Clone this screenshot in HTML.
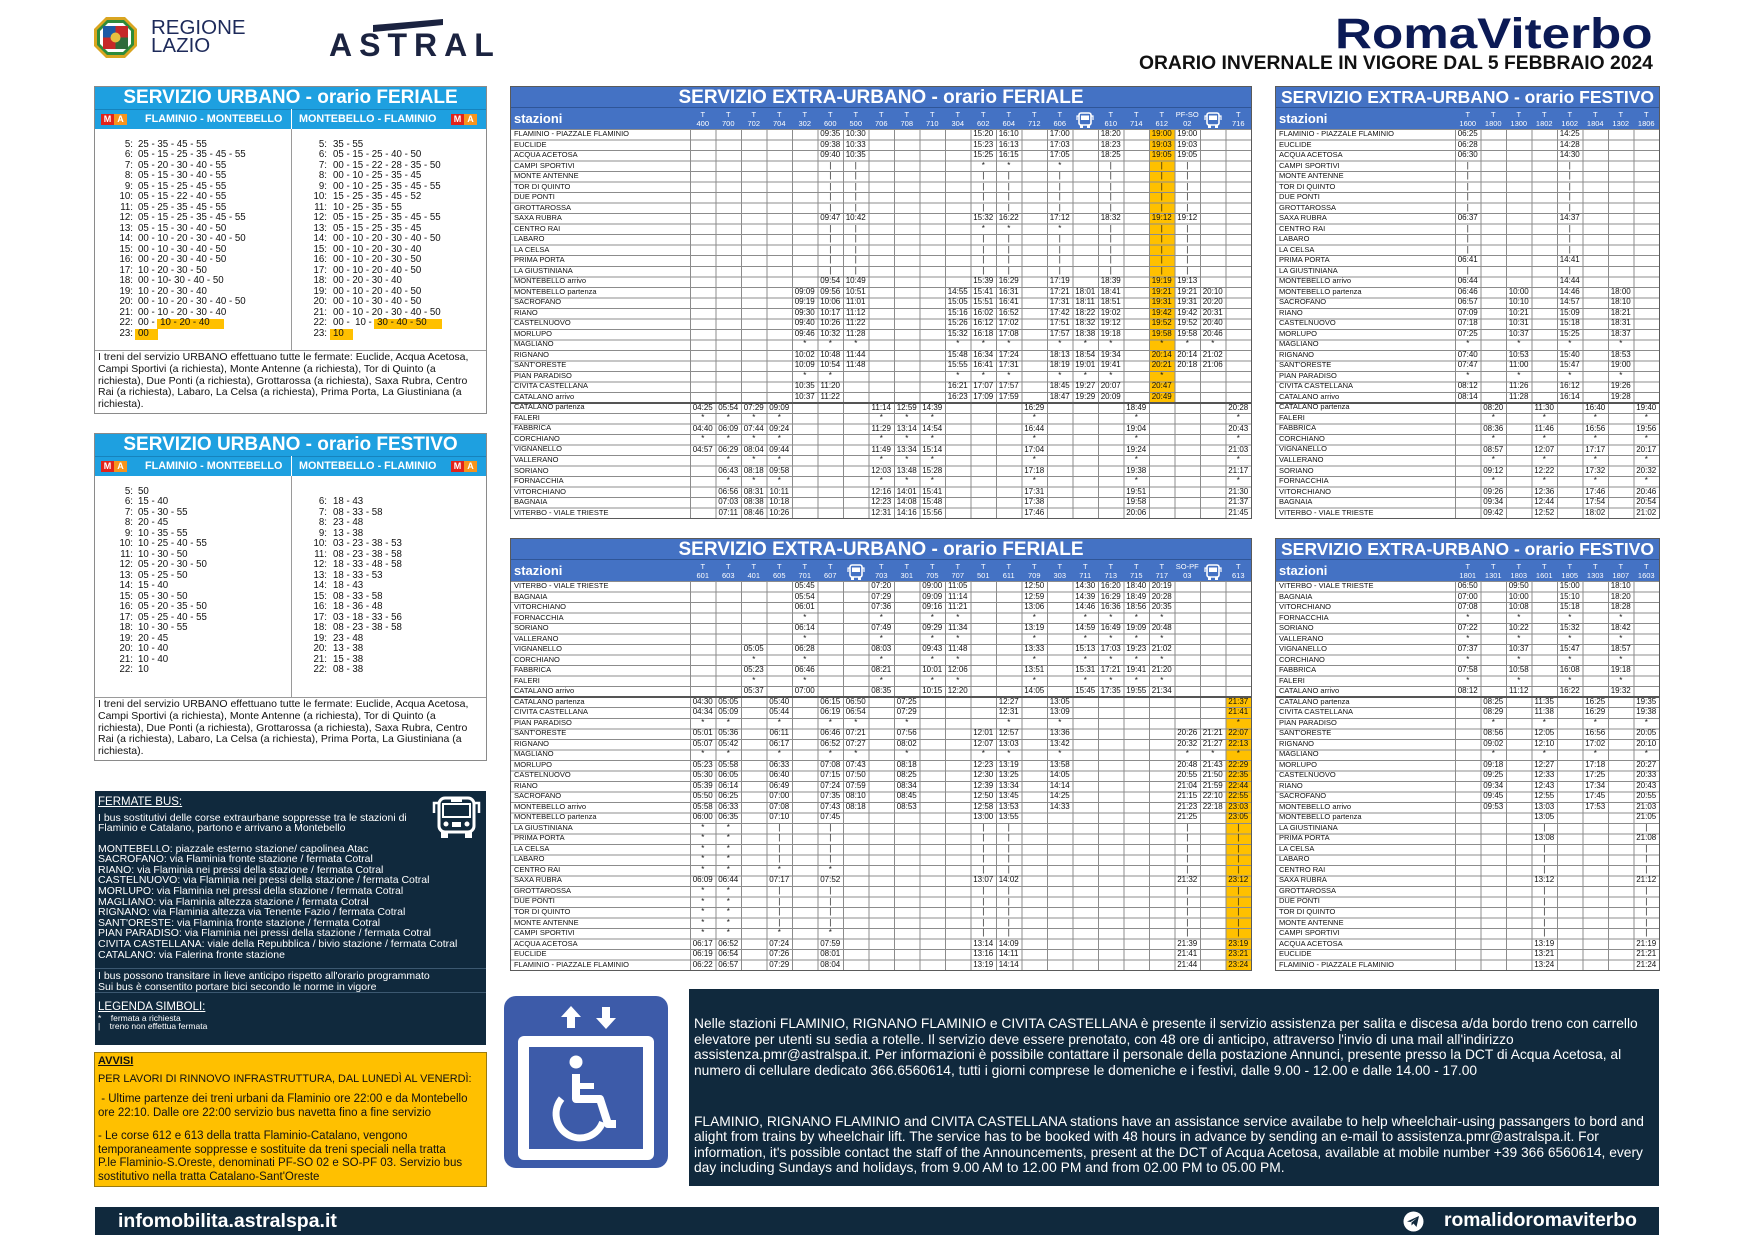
<!DOCTYPE html>
<html><head><meta charset="utf-8">
<style>
*{box-sizing:border-box;margin:0;padding:0}
body{width:1755px;height:1241px;position:relative;overflow:hidden;background:#fff;font-family:"Liberation Sans",Arial,sans-serif;color:#111}
.a{position:absolute}
/* extra-urban tables */
.X{position:absolute;height:431.3px;outline:1px solid #5a5a5a;background:#fff}
.t1{position:absolute;left:0;right:0;top:0;height:21px;background:#4472c4;color:#fff;font:bold 19px/21px "Liberation Sans",sans-serif;text-align:center;border-bottom:1px solid #2f5597;white-space:nowrap}
.t2{position:absolute;left:0;right:0;top:21px;height:21px;background:#4472c4}
.st{position:absolute;left:3px;top:3px;color:#fff;font:bold 13px/15px "Liberation Sans",sans-serif}
.H{position:absolute;left:179px;top:21px;display:flex;color:#fff;font:7.5px/9.5px "Liberation Sans",sans-serif}
.H>div{width:25.5px;flex:none;text-align:center;white-space:pre;padding-top:1.5px;height:21px}
.H svg{display:block;margin:2px auto 0}
.R{position:absolute;left:0;right:0;top:42px;height:389.3px;background:repeating-linear-gradient(to bottom,#8c8c8c 0,#8c8c8c 1px,transparent 1px,transparent 10.52px)}
.V{position:absolute;left:179px;top:42px;height:389.3px;background:repeating-linear-gradient(to right,#8c8c8c 0,#8c8c8c 1px,transparent 1px,transparent 25.5px)}
.S{position:absolute;left:3px;top:42px;white-space:pre;font:7.5px/10.52px "Liberation Sans",sans-serif;color:#111}
.D{position:absolute;left:179px;top:42px;display:flex;font:8px/10.52px "Liberation Sans",sans-serif;color:#111}
.D>div{width:25.5px;flex:none;text-align:center;white-space:pre}
.p6{padding-top:63.12px}.p11{padding-top:115.72px}.p14{padding-top:147.28px}.p15{padding-top:157.8px}.p26{padding-top:273.52px}
.sep{position:absolute;left:0;right:0;height:2px;background:#555}
.yl{position:absolute;width:25.5px;background:#ffc000}
/* urban boxes */
.U{position:absolute;left:95px;width:391px;height:326px;outline:1px solid #8a8a8a;background:#fff}
.u1{position:absolute;left:0;right:0;top:0;height:22px;background:#1ea0e0;color:#fff;font:bold 19px/22px "Liberation Sans",sans-serif;text-align:center;white-space:nowrap}
.u2{position:absolute;left:0;right:0;top:22px;height:20px;background:#1ea0e0;border-top:1px solid #1683bd}
.ut{position:absolute;top:3px;color:#fff;font:bold 10.8px/13px "Liberation Sans",sans-serif;white-space:nowrap}
.ma{position:absolute;top:4px;height:11px;width:27px}
.ma i{position:absolute;top:0;height:11px;width:13px;font:bold 9px/11px "Liberation Sans",sans-serif;color:#fff;text-align:center;font-style:normal}
.vd{position:absolute;left:196px;top:42px;width:1px;height:221px;background:#9a9a9a}
.vw{position:absolute;left:196px;top:22px;width:1px;height:20px;background:#fff}
.hd{position:absolute;left:0;right:0;top:263px;height:1px;background:#9a9a9a}
.hh{position:absolute;top:52.7px;text-align:right;white-space:pre;font:9.7px/10.52px "Liberation Sans",sans-serif;color:#111}
.vv{position:absolute;top:52.7px;white-space:pre;font:9.7px/10.52px "Liberation Sans",sans-serif;color:#111}
.hy{position:absolute;height:10.5px;background:#ffc000}
.nt{position:absolute;left:3px;top:265px;font:10.5px/11.8px "Liberation Sans",sans-serif;white-space:nowrap;color:#111}
/* navy */
.nv{position:absolute;background:#10293d;color:#fff}
</style></head><body>

<!-- Regione Lazio logo -->
<svg class="a" style="left:94px;top:17px" width="44" height="41" viewBox="0 0 44 41">
<polygon points="12,0 31,0 43,12 43,29 31,41 12,41 0,29 0,12" fill="#d9a520"/>
<polygon points="13,3 30,3 40,13 40,28 30,38 13,38 3,28 3,13" fill="#2e8b3a"/>
<polygon points="14,6 29,6 37,14 37,27 29,35 14,35 6,27 6,14" fill="#fff"/>
<rect x="9" y="9" width="12.5" height="11.5" fill="#1c5aa6"/>
<rect x="21.5" y="9" width="12.5" height="11.5" fill="#c62828"/>
<rect x="9" y="20.5" width="12.5" height="11.5" fill="#c62828"/>
<rect x="21.5" y="20.5" width="12.5" height="11.5" fill="#2e6b3a"/>
<circle cx="21.5" cy="20.5" r="5" fill="#e8c040"/>
</svg>
<div class="a" style="left:151px;top:19px;font:20.5px/18px 'Liberation Sans',sans-serif;color:#1d2a5a">REGIONE<br>LAZIO</div>

<!-- ASTRAL -->
<svg class="a" style="left:370px;top:16px" width="76" height="18" viewBox="0 0 76 18"><polygon points="3,9 73,3 73,9 3,16" fill="#1b2340"/></svg>
<div class="a" style="left:329px;top:29px;font:bold 32px/32px 'Liberation Sans',sans-serif;letter-spacing:7px;color:#1b2340">ASTRAL</div>

<!-- Title -->
<div class="a" style="left:1335px;top:13px;font:bold 43px/43px 'Liberation Sans',sans-serif;color:#0b1a55;transform-origin:0 0;transform:scaleX(1.19);white-space:nowrap">RomaViterbo</div>
<div class="a" style="left:1139px;top:54px;font:bold 19.3px/20px 'Liberation Sans',sans-serif;color:#111;white-space:nowrap">ORARIO INVERNALE IN VIGORE DAL 5 FEBBRAIO 2024</div>

<!-- URBANO FERIALE -->
<div class="U" style="top:87px">
<div class="u1">SERVIZIO URBANO - orario FERIALE</div>
<div class="u2">
<span class="ma" style="left:6px"><i style="left:0;background:#e2231a">M</i><i style="left:13px;background:#f7941d">A</i></span>
<span class="ut" style="left:50px">FLAMINIO - MONTEBELLO</span>
<span class="ut" style="left:204px">MONTEBELLO - FLAMINIO</span>
<span class="ma" style="left:356px"><i style="left:0;background:#e2231a">M</i><i style="left:13px;background:#f7941d">A</i></span>
</div>
<div class="vw"></div><div class="vd"></div><div class="hd"></div>
<div class="hy" style="left:62px;top:231.5px;width:67px"></div>
<div class="hy" style="left:40px;top:242px;width:23px"></div>
<div class="hy" style="left:279px;top:231.5px;width:68px"></div>
<div class="hy" style="left:235px;top:242px;width:23px"></div>
<div class="hh" style="left:0;width:38px">5:
6:
7:
8:
9:
10:
11:
12:
13:
14:
15:
16:
17:
18:
19:
20:
21:
22:
23:</div>
<div class="vv" style="left:43px">25 - 35 - 45 - 55
05 - 15 - 25 - 35 - 45 - 55
05 - 20 - 30 - 40 - 55
05 - 15 - 30 - 40 - 55
05 - 15 - 25 - 45 - 55
05 - 15 - 22 - 40 - 55
05 - 25 - 35 - 45 - 55
05 - 15 - 25 - 35 - 45 - 55
05 - 15 - 30 - 40 - 50
00 - 10 - 20 - 30 - 40 - 50
00 - 10 - 30 - 40 - 50
00 - 20 - 30 - 40 - 50
10 - 20 - 30 - 50
00 - 10- 30 - 40 - 50
10 - 20 - 30 - 40
00 - 10 - 20 - 30 - 40 - 50
00 - 10 - 20 - 30 - 40
00 -  10 - 20 - 40
00</div>
<div class="hh" style="left:196px;width:36px">5:
6:
7:
8:
9:
10:
11:
12:
13:
14:
15:
16:
17:
18:
19:
20:
21:
22:
23:</div>
<div class="vv" style="left:238px">35 - 55
05 - 15 - 25 - 40 - 50
00 - 15 - 22 - 28 - 35 - 50
00 - 10 - 25 - 35 - 45
00 - 10 - 25 - 35 - 45 - 55
15 - 25 - 35 - 45 - 52
10 - 25 - 35 - 55
05 - 15 - 25 - 35 - 45 - 55
05 - 15 - 25 - 35 - 45
00 - 10 - 20 - 30 - 40 - 50
00 - 10 - 20 - 30 - 40
00 - 10 - 20 - 30 - 50
00 - 10 - 20 - 40 - 50
00 - 20 - 30 - 40
00 - 10 - 20 - 40 - 50
00 - 10 - 30 - 40 - 50
00 - 10 - 20 - 30 - 40 - 50
00 -  10 -  30 - 40 - 50
10</div>
<div class="nt">I treni del servizio URBANO effettuano tutte le fermate: Euclide, Acqua Acetosa,<br>Campi Sportivi (a richiesta), Monte Antenne (a richiesta), Tor di Quinto (a<br>richiesta), Due Ponti (a richiesta), Grottarossa (a richiesta), Saxa Rubra, Centro<br>Rai (a richiesta), Labaro, La Celsa (a richiesta), Prima Porta, La Giustiniana (a<br>richiesta).</div>
</div>

<!-- URBANO FESTIVO -->
<div class="U" style="top:434px">
<div class="u1">SERVIZIO URBANO - orario FESTIVO</div>
<div class="u2">
<span class="ma" style="left:6px"><i style="left:0;background:#e2231a">M</i><i style="left:13px;background:#f7941d">A</i></span>
<span class="ut" style="left:50px">FLAMINIO - MONTEBELLO</span>
<span class="ut" style="left:204px">MONTEBELLO - FLAMINIO</span>
<span class="ma" style="left:356px"><i style="left:0;background:#e2231a">M</i><i style="left:13px;background:#f7941d">A</i></span>
</div>
<div class="vw"></div><div class="vd"></div><div class="hd"></div>
<div class="hh" style="left:0;width:38px">5:
6:
7:
8:
9:
10:
11:
12:
13:
14:
15:
16:
17:
18:
19:
20:
21:
22:</div>
<div class="vv" style="left:43px">50
15 - 40
05 - 30 - 55
20 - 45
10 - 35 - 55
10 - 25 - 40 - 55
10 - 30 - 50
05 - 20 - 30 - 50
05 - 25 - 50
15 - 40
05 - 30 - 50
05 - 20 - 35 - 50
05 - 25 - 40 - 55
10 - 30 - 55
20 - 45
10 - 40
10 - 40
10</div>
<div class="hh" style="left:196px;width:36px"> 
6:
7:
8:
9:
10:
11:
12:
13:
14:
15:
16:
17:
18:
19:
20:
21:
22:</div>
<div class="vv" style="left:238px"> 
18 - 43
08 - 33 - 58
23 - 48
13 - 38
03 - 23 - 38 - 53
08 - 23 - 38 - 58
18 - 33 - 48 - 58
18 - 33 - 53
18 - 43
08 - 33 - 58
18 - 36 - 48
03 - 18 - 33 - 56
08 - 23 - 38 - 58
23 - 48
13 - 38
15 - 38
08 - 38</div>
<div class="nt">I treni del servizio URBANO effettuano tutte le fermate: Euclide, Acqua Acetosa,<br>Campi Sportivi (a richiesta), Monte Antenne (a richiesta), Tor di Quinto (a<br>richiesta), Due Ponti (a richiesta), Grottarossa (a richiesta), Saxa Rubra, Centro<br>Rai (a richiesta), Labaro, La Celsa (a richiesta), Prima Porta, La Giustiniana (a<br>richiesta).</div>
</div>

<!-- EXTRA-URBANO FERIALE TOP -->
<div class="X" style="left:511px;top:87px;width:740px">
<div class="t1">SERVIZIO EXTRA-URBANO - orario FERIALE</div>
<div class="t2"><span class="st">stazioni</span></div>
<div class="H"><div>T
400</div><div>T
700</div><div>T
702</div><div>T
704</div><div>T
302</div><div>T
600</div><div>T
500</div><div>T
706</div><div>T
708</div><div>T
710</div><div>T
304</div><div>T
602</div><div>T
604</div><div>T
712</div><div>T
606</div><div><svg width="18" height="17" viewBox="0 0 18 17"><rect x="3" y="1" width="12" height="12" rx="2" fill="none" stroke="#fff" stroke-width="1.6"/><rect x="5" y="3.5" width="8" height="4.5" fill="#fff"/><rect x="4" y="13" width="3" height="3" fill="#fff"/><rect x="11" y="13" width="3" height="3" fill="#fff"/><path d="M3 4H1V8M15 4h2v4" fill="none" stroke="#fff" stroke-width="1.2"/></svg></div><div>T
610</div><div>T
714</div><div>T
612</div><div>PF-SO
02</div><div><svg width="18" height="17" viewBox="0 0 18 17"><rect x="3" y="1" width="12" height="12" rx="2" fill="none" stroke="#fff" stroke-width="1.6"/><rect x="5" y="3.5" width="8" height="4.5" fill="#fff"/><rect x="4" y="13" width="3" height="3" fill="#fff"/><rect x="11" y="13" width="3" height="3" fill="#fff"/><path d="M3 4H1V8M15 4h2v4" fill="none" stroke="#fff" stroke-width="1.2"/></svg></div><div>T
716</div></div>
<div class="yl" style="left:638px;top:42px;height:273.52px"></div>
<div class="R"></div>
<div class="V" style="width:561px"></div>
<div class="sep" style="top:315px"></div>
<div class="S">FLAMINIO - PIAZZALE FLAMINIO
EUCLIDE
ACQUA ACETOSA
CAMPI SPORTIVI
MONTE ANTENNE
TOR DI QUINTO
DUE PONTI
GROTTAROSSA
SAXA RUBRA
CENTRO RAI
LABARO
LA CELSA
PRIMA PORTA
LA GIUSTINIANA
MONTEBELLO arrivo
MONTEBELLO partenza
SACROFANO
RIANO
CASTELNUOVO
MORLUPO
MAGLIANO
RIGNANO
SANT'ORESTE
PIAN PARADISO
CIVITA CASTELLANA
CATALANO arrivo
CATALANO partenza
FALERI
FABBRICA
CORCHIANO
VIGNANELLO
VALLERANO
SORIANO
FORNACCHIA
VITORCHIANO
BAGNAIA
VITERBO - VIALE TRIESTE</div>
<div class="D"><div class="p26">04:25
*
04:40
*
04:57</div><div class="p26">05:54
*
06:09
*
06:29
*
06:43
*
06:56
07:03
07:11</div><div class="p26">07:29
*
07:44
*
08:04
*
08:18
*
08:31
08:38
08:46</div><div class="p26">09:09
*
09:24
*
09:44
*
09:58
*
10:11
10:18
10:26</div><div class="p15">09:09
09:19
09:30
09:40
09:46
*
10:02
10:09
*
10:35
10:37</div><div>09:35
09:38
09:40
|
|
|
|
|
09:47
|
|
|
|
|
09:54
09:56
10:06
10:17
10:26
10:32
*
10:48
10:54
*
11:20
11:22</div><div>10:30
10:33
10:35
|
|
|
|
|
10:42
|
|
|
|
|
10:49
10:51
11:01
11:12
11:22
11:28
*
11:44
11:48</div><div class="p26">11:14
*
11:29
*
11:49
*
12:03
*
12:16
12:23
12:31</div><div class="p26">12:59
*
13:14
*
13:34
*
13:48
*
14:01
14:08
14:16</div><div class="p26">14:39
*
14:54
*
15:14
*
15:28
*
15:41
15:48
15:56</div><div class="p15">14:55
15:05
15:16
15:26
15:32
*
15:48
15:55
*
16:21
16:23</div><div>15:20
15:23
15:25
*
|
|
|
|
15:32
*
|
|
|
|
15:39
15:41
15:51
16:02
16:12
16:18
*
16:34
16:41
*
17:07
17:09</div><div>16:10
16:13
16:15
*
|
|
|
|
16:22
*
|
|
|
|
16:29
16:31
16:41
16:52
17:02
17:08
*
17:24
17:31
*
17:57
17:59</div><div class="p26">16:29
*
16:44
*
17:04
*
17:18
*
17:31
17:38
17:46</div><div>17:00
17:03
17:05
*
|
|
|
|
17:12
*
|
|
|
|
17:19
17:21
17:31
17:42
17:51
17:57
*
18:13
18:19
*
18:45
18:47</div><div class="p15">18:01
18:11
18:22
18:32
18:38
*
18:54
19:01
*
19:27
19:29</div><div>18:20
18:23
18:25
|
|
|
|
|
18:32
|
|
|
|
|
18:39
18:41
18:51
19:02
19:12
19:18
*
19:34
19:41
*
20:07
20:09</div><div class="p26">18:49
*
19:04
*
19:24
*
19:38
*
19:51
19:58
20:06</div><div>19:00
19:03
19:05
|
|
|
|
|
19:12
|
|
|
|
|
19:19
19:21
19:31
19:42
19:52
19:58
*
20:14
20:21
*
20:47
20:49</div><div>19:00
19:03
19:05
|
|
|
|
|
19:12
|
|
|
|
|
19:13
19:21
19:31
19:42
19:52
19:58
*
20:14
20:18</div><div class="p15">20:10
20:20
20:31
20:40
20:46
*
21:02
21:06</div><div class="p26">20:28
*
20:43
*
21:03
*
21:17
*
21:30
21:37
21:45</div></div>
</div>

<!-- EXTRA-URBANO FESTIVO TOP -->
<div class="X" style="left:1276px;top:87px;width:383px">
<div class="t1" style="font-size:17.5px">SERVIZIO EXTRA-URBANO - orario FESTIVO</div>
<div class="t2"><span class="st">stazioni</span></div>
<div class="H"><div>T
1600</div><div>T
1800</div><div>T
1300</div><div>T
1802</div><div>T
1602</div><div>T
1804</div><div>T
1302</div><div>T
1806</div></div>
<div class="R"></div>
<div class="V" style="width:204px"></div>
<div class="sep" style="top:315px"></div>
<div class="S">FLAMINIO - PIAZZALE FLAMINIO
EUCLIDE
ACQUA ACETOSA
CAMPI SPORTIVI
MONTE ANTENNE
TOR DI QUINTO
DUE PONTI
GROTTAROSSA
SAXA RUBRA
CENTRO RAI
LABARO
LA CELSA
PRIMA PORTA
LA GIUSTINIANA
MONTEBELLO arrivo
MONTEBELLO partenza
SACROFANO
RIANO
CASTELNUOVO
MORLUPO
MAGLIANO
RIGNANO
SANT'ORESTE
PIAN PARADISO
CIVITA CASTELLANA
CATALANO arrivo
CATALANO partenza
FALERI
FABBRICA
CORCHIANO
VIGNANELLO
VALLERANO
SORIANO
FORNACCHIA
VITORCHIANO
BAGNAIA
VITERBO - VIALE TRIESTE</div>
<div class="D"><div>06:25
06:28
06:30
|
|
|
|
|
06:37
|
|
|
06:41
|
06:44
06:46
06:57
07:09
07:18
07:25
*
07:40
07:47
*
08:12
08:14</div><div class="p26">08:20
*
08:36
*
08:57
*
09:12
*
09:26
09:34
09:42</div><div class="p15">10:00
10:10
10:21
10:31
10:37
*
10:53
11:00
*
11:26
11:28</div><div class="p26">11:30
*
11:46
*
12:07
*
12:22
*
12:36
12:44
12:52</div><div>14:25
14:28
14:30
|
|
|
|
|
14:37
|
|
|
14:41
|
14:44
14:46
14:57
15:09
15:18
15:25
*
15:40
15:47
*
16:12
16:14</div><div class="p26">16:40
*
16:56
*
17:17
*
17:32
*
17:46
17:54
18:02</div><div class="p15">18:00
18:10
18:21
18:31
18:37
*
18:53
19:00
*
19:26
19:28</div><div class="p26">19:40
*
19:56
*
20:17
*
20:32
*
20:46
20:54
21:02</div></div>
</div>

<!-- EXTRA-URBANO FERIALE BOTTOM -->
<div class="X" style="left:511px;top:539px;width:740px">
<div class="t1">SERVIZIO EXTRA-URBANO - orario FERIALE</div>
<div class="t2"><span class="st">stazioni</span></div>
<div class="H"><div>T
601</div><div>T
603</div><div>T
401</div><div>T
605</div><div>T
701</div><div>T
607</div><div><svg width="18" height="17" viewBox="0 0 18 17"><rect x="3" y="1" width="12" height="12" rx="2" fill="none" stroke="#fff" stroke-width="1.6"/><rect x="5" y="3.5" width="8" height="4.5" fill="#fff"/><rect x="4" y="13" width="3" height="3" fill="#fff"/><rect x="11" y="13" width="3" height="3" fill="#fff"/><path d="M3 4H1V8M15 4h2v4" fill="none" stroke="#fff" stroke-width="1.2"/></svg></div><div>T
703</div><div>T
301</div><div>T
705</div><div>T
707</div><div>T
501</div><div>T
611</div><div>T
709</div><div>T
303</div><div>T
711</div><div>T
713</div><div>T
715</div><div>T
717</div><div>SO-PF
03</div><div><svg width="18" height="17" viewBox="0 0 18 17"><rect x="3" y="1" width="12" height="12" rx="2" fill="none" stroke="#fff" stroke-width="1.6"/><rect x="5" y="3.5" width="8" height="4.5" fill="#fff"/><rect x="4" y="13" width="3" height="3" fill="#fff"/><rect x="11" y="13" width="3" height="3" fill="#fff"/><path d="M3 4H1V8M15 4h2v4" fill="none" stroke="#fff" stroke-width="1.2"/></svg></div><div>T
613</div></div>
<div class="yl" style="left:714.5px;top:157.72px;height:273.52px"></div>
<div class="R"></div>
<div class="V" style="width:561px"></div>
<div class="sep" style="top:157px"></div>
<div class="S">VITERBO - VIALE TRIESTE
BAGNAIA
VITORCHIANO
FORNACCHIA
SORIANO
VALLERANO
VIGNANELLO
CORCHIANO
FABBRICA
FALERI
CATALANO arrivo
CATALANO partenza
CIVITA CASTELLANA
PIAN PARADISO
SANT'ORESTE
RIGNANO
MAGLIANO
MORLUPO
CASTELNUOVO
RIANO
SACROFANO
MONTEBELLO arrivo
MONTEBELLO partenza
LA GIUSTINIANA
PRIMA PORTA
LA CELSA
LABARO
CENTRO RAI
SAXA RUBRA
GROTTAROSSA
DUE PONTI
TOR DI QUINTO
MONTE ANTENNE
CAMPI SPORTIVI
ACQUA ACETOSA
EUCLIDE
FLAMINIO - PIAZZALE FLAMINIO</div>
<div class="D"><div class="p11">04:30
04:34
*
05:01
05:07
*
05:23
05:30
05:39
05:50
05:58
06:00
*
*
*
*
*
06:09
*
*
*
*
*
06:17
06:19
06:22</div><div class="p11">05:05
05:09
*
05:36
05:42
*
05:58
06:05
06:14
06:25
06:33
06:35
*
*
*
*
*
06:44
*
*
*
*
*
06:52
06:54
06:57</div><div class="p6">05:05
*
05:23
*
05:37</div><div class="p11">05:40
05:44
*
06:11
06:17
*
06:33
06:40
06:49
07:00
07:08
07:10
|
|
|
|
*
07:17
|
|
|
|
*
07:24
07:26
07:29</div><div>05:45
05:54
06:01
*
06:14
*
06:28
*
06:46
*
07:00</div><div class="p11">06:15
06:19
*
06:46
06:52
*
07:08
07:15
07:24
07:35
07:43
07:45
|
|
|
|
*
07:52
|
|
|
|
*
07:59
08:01
08:04</div><div class="p11">06:50
06:54
*
07:21
07:27
*
07:43
07:50
07:59
08:10
08:18</div><div>07:20
07:29
07:36
*
07:49
*
08:03
*
08:21
*
08:35</div><div class="p11">07:25
07:29
*
07:56
08:02
*
08:18
08:25
08:34
08:45
08:53</div><div>09:00
09:09
09:16
*
09:29
*
09:43
*
10:01
*
10:15</div><div>11:05
11:14
11:21
*
11:34
*
11:48
*
12:06
*
12:20</div><div class="p14">12:01
12:07
*
12:23
12:30
12:39
12:50
12:58
13:00
|
|
|
|
|
13:07
|
|
|
|
|
13:14
13:16
13:19</div><div class="p11">12:27
12:31
*
12:57
13:03
*
13:19
13:25
13:34
13:45
13:53
13:55
|
|
|
|
|
14:02
|
|
|
|
|
14:09
14:11
14:14</div><div>12:50
12:59
13:06
*
13:19
*
13:33
*
13:51
*
14:05</div><div class="p11">13:05
13:09
*
13:36
13:42
*
13:58
14:05
14:14
14:25
14:33</div><div>14:30
14:39
14:46
*
14:59
*
15:13
*
15:31
*
15:45</div><div>16:20
16:29
16:36
*
16:49
*
17:03
*
17:21
*
17:35</div><div>18:40
18:49
18:56
*
19:09
*
19:23
*
19:41
*
19:55</div><div>20:19
20:28
20:35
*
20:48
*
21:02
*
21:20
*
21:34</div><div class="p14">20:26
20:32
*
20:48
20:55
21:04
21:15
21:23
21:25
|
|
|
|
|
21:32
|
|
|
|
|
21:39
21:41
21:44</div><div class="p14">21:21
21:27
*
21:43
21:50
21:59
22:10
22:18</div><div class="p11">21:37
21:41
*
22:07
22:13
*
22:29
22:35
22:44
22:55
23:03
23:05
|
|
|
|
|
23:12
|
|
|
|
|
23:19
23:21
23:24</div></div>
</div>

<!-- EXTRA-URBANO FESTIVO BOTTOM -->
<div class="X" style="left:1276px;top:539px;width:383px">
<div class="t1" style="font-size:17.5px">SERVIZIO EXTRA-URBANO - orario FESTIVO</div>
<div class="t2"><span class="st">stazioni</span></div>
<div class="H"><div>T
1801</div><div>T
1301</div><div>T
1803</div><div>T
1601</div><div>T
1805</div><div>T
1303</div><div>T
1807</div><div>T
1603</div></div>
<div class="R"></div>
<div class="V" style="width:204px"></div>
<div class="sep" style="top:157px"></div>
<div class="S">VITERBO - VIALE TRIESTE
BAGNAIA
VITORCHIANO
FORNACCHIA
SORIANO
VALLERANO
VIGNANELLO
CORCHIANO
FABBRICA
FALERI
CATALANO arrivo
CATALANO partenza
CIVITA CASTELLANA
PIAN PARADISO
SANT'ORESTE
RIGNANO
MAGLIANO
MORLUPO
CASTELNUOVO
RIANO
SACROFANO
MONTEBELLO arrivo
MONTEBELLO partenza
LA GIUSTINIANA
PRIMA PORTA
LA CELSA
LABARO
CENTRO RAI
SAXA RUBRA
GROTTAROSSA
DUE PONTI
TOR DI QUINTO
MONTE ANTENNE
CAMPI SPORTIVI
ACQUA ACETOSA
EUCLIDE
FLAMINIO - PIAZZALE FLAMINIO</div>
<div class="D"><div>06:50
07:00
07:08
*
07:22
*
07:37
*
07:58
*
08:12</div><div class="p11">08:25
08:29
*
08:56
09:02
*
09:18
09:25
09:34
09:45
09:53</div><div>09:50
10:00
10:08
*
10:22
*
10:37
*
10:58
*
11:12</div><div class="p11">11:35
11:38
*
12:05
12:10
*
12:27
12:33
12:43
12:55
13:03
13:05
|
13:08
|
|
|
13:12
|
|
|
|
|
13:19
13:21
13:24</div><div>15:00
15:10
15:18
*
15:32
*
15:47
*
16:08
*
16:22</div><div class="p11">16:25
16:29
*
16:56
17:02
*
17:18
17:25
17:34
17:45
17:53</div><div>18:10
18:20
18:28
*
18:42
*
18:57
*
19:18
*
19:32</div><div class="p11">19:35
19:38
*
20:05
20:10
*
20:27
20:33
20:43
20:55
21:03
21:05
|
21:08
|
|
|
21:12
|
|
|
|
|
21:19
21:21
21:24</div></div>
</div>

<!-- FERMATE BUS -->
<div class="nv" style="left:95px;top:791px;width:391px;height:254px">
<div class="a" style="left:3px;top:4px;font:11.5px/14px 'Liberation Sans',sans-serif;text-decoration:underline">FERMATE BUS:</div>
<svg class="a" style="left:337px;top:4px" width="49" height="44" viewBox="0 0 49 44"><rect x="7" y="3" width="35" height="34" rx="6" fill="none" stroke="#fff" stroke-width="3"/><rect x="11" y="9" width="27" height="13" fill="none" stroke="#fff" stroke-width="2"/><rect x="19" y="4" width="11" height="3" fill="#fff"/><circle cx="14" cy="29" r="2.5" fill="#fff"/><circle cx="35" cy="29" r="2.5" fill="#fff"/><rect x="20" y="27" width="9" height="5" fill="#fff"/><rect x="9" y="37" width="7" height="6" fill="#fff"/><rect x="33" y="37" width="7" height="6" fill="#fff"/><path d="M7 8H2V18M42 8h5v10" fill="none" stroke="#fff" stroke-width="2.5"/></svg>
<div class="a" style="left:3px;top:21.7px;font:10.5px/10.55px 'Liberation Sans',sans-serif;white-space:nowrap">I bus sostitutivi delle corse extraurbane soppresse tra le stazioni di<br>Flaminio e Catalano, partono e arrivano a Montebello</div>
<div class="a" style="left:3px;top:52.7px;font:10.5px/10.6px 'Liberation Sans',sans-serif;white-space:nowrap">MONTEBELLO: piazzale esterno stazione/ capolinea Atac<br>SACROFANO: via Flaminia fronte stazione / fermata Cotral<br>RIANO: via Flaminia nei pressi della stazione / fermata Cotral<br>CASTELNUOVO: via Flaminia nei pressi della stazione / fermata Cotral<br>MORLUPO: via Flaminia nei pressi della stazione / fermata Cotral<br>MAGLIANO: via Flaminia altezza stazione / fermata Cotral<br>RIGNANO: via Flaminia altezza via Tenente Fazio / fermata Cotral<br>SANT'ORESTE: via Flaminia fronte stazione / fermata Cotral<br>PIAN PARADISO: via Flaminia nei pressi della stazione / fermata Cotral<br>CIVITA CASTELLANA: viale della Repubblica / bivio stazione / fermata Cotral<br>CATALANO: via Falerina fronte stazione</div>
<div class="a" style="left:0;right:0;top:177px;height:1px;background:#3c5870"></div>
<div class="a" style="left:3px;top:180px;font:10.5px/10.55px 'Liberation Sans',sans-serif;white-space:nowrap">I bus possono transitare in lieve anticipo rispetto all'orario programmato<br>Sui bus è consentito portare bici secondo le norme in vigore</div>
<div class="a" style="left:0;right:0;top:201px;height:1px;background:#3c5870"></div>
<div class="a" style="left:3px;top:209px;font:11.5px/14px 'Liberation Sans',sans-serif;text-decoration:underline">LEGENDA SIMBOLI:</div>
<div class="a" style="left:3px;top:223px;font:8.5px/8px 'Liberation Sans',sans-serif;white-space:pre">*    fermata a richiesta
|    treno non effettua fermata</div>
</div>

<!-- AVVISI -->
<div class="a" style="left:95px;top:1053px;width:391px;height:133px;background:#ffc000;outline:1px solid #9a7a10;color:#111">
<div class="a" style="left:3px;top:1px;font:bold 11px/14px 'Liberation Sans',sans-serif;text-decoration:underline">AVVISI</div>
<div class="a" style="left:3px;top:19.5px;font:10.9px/13.5px 'Liberation Sans',sans-serif;white-space:nowrap">PER LAVORI DI RINNOVO INFRASTRUTTURA, DAL LUNEDÌ AL VENERDÌ:</div>
<div class="a" style="left:3px;top:40.4px;font:11.5px/13.3px 'Liberation Sans',sans-serif;white-space:nowrap">&nbsp;- Ultime partenze dei treni urbani da Flaminio ore 22:00 e da Montebello<br>ore 22:10. Dalle ore 22:00 servizio bus navetta fino a fine servizio</div>
<div class="a" style="left:3px;top:77px;font:11.5px/13.6px 'Liberation Sans',sans-serif;white-space:nowrap">- Le corse 612 e 613 della tratta Flaminio-Catalano, vengono<br>temporaneamente soppresse e sostituite da treni speciali nella tratta<br>P.le Flaminio-S.Oreste, denominati PF-SO 02 e SO-PF 03. Servizio bus<br>sostitutivo nella tratta Catalano-Sant'Oreste</div>
</div>

<!-- Wheelchair icon -->
<svg class="a" style="left:504px;top:996px" width="164" height="172" viewBox="0 0 164 172">
<rect x="0" y="0" width="164" height="172" rx="12" fill="#3d5ba9"/>
<polygon points="67,10 57,21 63,21 63,32 71,32 71,21 77,21" fill="#fff"/>
<polygon points="102,33 92,22 98,22 98,11 106,11 106,22 112,22" fill="#fff"/>
<rect x="14" y="40" width="136" height="124" rx="6" fill="#fff"/>
<rect x="25" y="51" width="114" height="102" fill="#3d5ba9"/>
<circle cx="72" cy="66" r="6.5" fill="#fff"/>
<path d="M72 78V103H96L104 128H112" fill="none" stroke="#fff" stroke-width="8" stroke-linejoin="round"/>
<path d="M72 90H90" stroke="#fff" stroke-width="6"/>
<path d="M57.6 102.6A24 24 0 1 0 98.6 126.2" fill="none" stroke="#fff" stroke-width="7"/>
</svg>

<!-- Accessibility text box -->
<div class="nv" style="left:689px;top:989px;width:970px;height:197px">
<div class="a" style="left:5px;top:27.3px;font:13.8px/15.4px 'Liberation Sans',sans-serif;white-space:nowrap">Nelle stazioni FLAMINIO, RIGNANO FLAMINIO e CIVITA CASTELLANA è presente il servizio assistenza per salita e discesa a/da bordo treno con carrello<br>elevatore per utenti su sedia a rotelle. Il servizio deve essere prenotato, con 48 ore di anticipo, attraverso l'invio di una mail all'indirizzo<br>assistenza.pmr@astralspa.it. Per informazioni è possibile contattare il personale della postazione Annunci, presente presso la DCT di Acqua Acetosa, al<br>numero di cellulare dedicato 366.6560614, tutti i giorni comprese le domeniche e i festivi, dalle 9.00 - 12.00 e dalle 14.00 - 17.00</div>
<div class="a" style="left:5px;top:124.8px;font:13.8px/15.4px 'Liberation Sans',sans-serif;white-space:nowrap">FLAMINIO, RIGNANO FLAMINIO and CIVITA CASTELLANA stations have an assistance service availabe to help wheelchair-using passangers to bord and<br>alight from trains by wheelchair lift. The service has to be booked with 48 hours in advance by sending an e-mail to assistenza.pmr@astralspa.it. For<br>information, it's possible contact the staff of the Announcements, present at the DCT of Acqua Acetosa, available at mobile number +39 366 6560614, every<br>day including Sundays and holidays, from 9.00 AM to 12.00 PM and from 02.00 PM to 05.00 PM.</div>
</div>

<!-- Footer -->
<div class="nv" style="left:95px;top:1207px;width:1564px;height:28px">
<div class="a" style="left:23px;top:2px;font:bold 19.5px/24px 'Liberation Sans',sans-serif;white-space:nowrap">infomobilita.astralspa.it</div>
<svg class="a" style="left:1308px;top:4px" width="21" height="21" viewBox="0 0 21 21"><circle cx="10.5" cy="10.5" r="10" fill="#fff"/><polygon points="4,10.5 16,5 13.5,16 10.5,12.5 8.5,14.5 8.5,11.5 14,7 7.5,11" fill="#10293d"/></svg>
<div class="a" style="left:1349px;top:2px;font:bold 19.3px/24px 'Liberation Sans',sans-serif;white-space:nowrap">romalidoromaviterbo</div>
</div>

</body></html>
